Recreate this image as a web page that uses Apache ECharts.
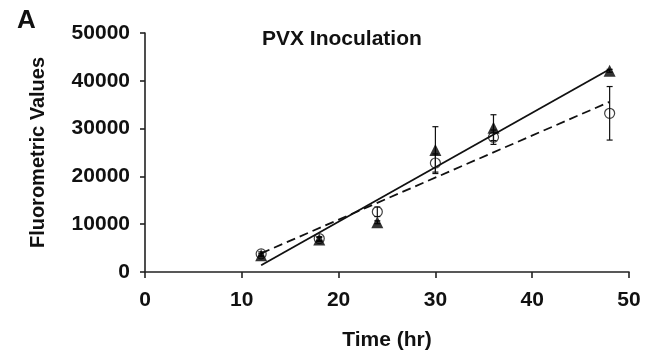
<!DOCTYPE html>
<html><head><meta charset="utf-8">
<script src="https://cdn.jsdelivr.net/npm/echarts@6/dist/echarts.min.js"></script>
<style>html,body{margin:0;padding:0;background:#fff}#c{width:646px;height:360px}</style>
</head><body><div id="c"></div>
<script>
// Data
const times = [12, 18, 24, 30, 36, 48];
const triMean = [3500, 6800, 10400, 25500, 30200, 42100];
const triErr  = [300, 400, 300, 4900, 2700, 300];
const circMean = [3800, 7000, 12600, 22800, 28200, 33200];
const circErr  = [400, 400, 1000, 1900, 1500, 5600];
const solidFitX = [12, 48];
const solidFitY = [1400, 42400];
const dashFitX = [12, 48];
const dashFitY = [3900, 35600];
const xTicks = [0, 10, 20, 30, 40, 50];
const yTicks = [0, 10000, 20000, 30000, 40000, 50000];

const FONT = 'Liberation Sans, Arial, sans-serif';
const chart = echarts.init(document.getElementById('c'));

function errData(means, errs) {
  return times.map((t, i) => [t, means[i] - errs[i], means[i] + errs[i]]);
}
function errRender(params, api) {
  const x = api.value(0);
  const lo = api.coord([x, api.value(1)]);
  const hi = api.coord([x, api.value(2)]);
  const w = 3;
  const st = { stroke: '#111', lineWidth: 1.2 };
  return { type: 'group', children: [
    { type: 'line', shape: { x1: lo[0], y1: lo[1], x2: hi[0], y2: hi[1] }, style: st },
    { type: 'line', shape: { x1: lo[0]-w, y1: lo[1], x2: lo[0]+w, y2: lo[1] }, style: st },
    { type: 'line', shape: { x1: hi[0]-w, y1: hi[1], x2: hi[0]+w, y2: hi[1] }, style: st }
  ]};
}

chart.setOption({
  animation: false,
  backgroundColor: '#fff',
  title: [
    { text: 'A', left: 12, top: 3, textStyle: { fontFamily: FONT, fontWeight: 'bold', fontSize: 26, color: '#111' } },
    { text: 'PVX Inoculation', left: 257, top: 24, textStyle: { fontFamily: FONT, fontWeight: 'bold', fontSize: 21, color: '#111' } }
  ],
  grid: { left: 145, right: 17, top: 33, bottom: 88 },
  xAxis: {
    type: 'value', min: xTicks[0], max: xTicks[xTicks.length-1], interval: 10,
    name: 'Time (hr)', nameLocation: 'middle', nameGap: 58,
    nameTextStyle: { fontFamily: FONT, fontWeight: 'bold', fontSize: 21, color: '#111' },
    axisLine: { lineStyle: { color: '#222', width: 1.6 } },
    axisTick: { inside: false, length: 6, lineStyle: { color: '#222', width: 1.6 } },
    axisLabel: { margin: 18, fontFamily: FONT, fontWeight: 'bold', fontSize: 21, color: '#111',
      formatter: v => String(v) },
    splitLine: { show: false }
  },
  yAxis: {
    type: 'value', min: yTicks[0], max: yTicks[yTicks.length-1], interval: 10000,
    name: 'Fluorometric Values', nameLocation: 'middle', nameGap: 97,
    nameTextStyle: { fontFamily: FONT, fontWeight: 'bold', fontSize: 20, color: '#111' },
    axisLine: { show: true, lineStyle: { color: '#222', width: 1.6 } },
    axisTick: { show: true, length: 5, lineStyle: { color: '#222', width: 1.6 } },
    axisLabel: { margin: 15, fontFamily: FONT, fontWeight: 'bold', fontSize: 21, color: '#111',
      formatter: v => String(v) },
    splitLine: { show: false }
  },
  series: [
    { type: 'line', data: solidFitX.map((x, i) => [x, solidFitY[i]]), symbol: 'none',
      lineStyle: { color: '#111', width: 1.8, type: 'solid' }, z: 2 },
    { type: 'line', data: dashFitX.map((x, i) => [x, dashFitY[i]]), symbol: 'none',
      lineStyle: { color: '#111', width: 1.8, type: [9, 5] }, z: 2 },
    { type: 'custom', renderItem: errRender, data: errData(circMean, circErr), z: 3 },
    { type: 'custom', renderItem: errRender, data: errData(triMean, triErr), z: 3 },
    { type: 'scatter', data: times.map((t, i) => [t, circMean[i]]), symbol: 'circle', symbolSize: 10,
      itemStyle: { color: 'rgba(255,255,255,0)', borderColor: '#111', borderWidth: 1.2 }, z: 4 },
    { type: 'scatter', data: times.map((t, i) => [t, triMean[i]]), symbol: 'triangle', symbolSize: 12,
      itemStyle: { color: '#000' }, z: 5 }
  ]
});
</script></body></html>
